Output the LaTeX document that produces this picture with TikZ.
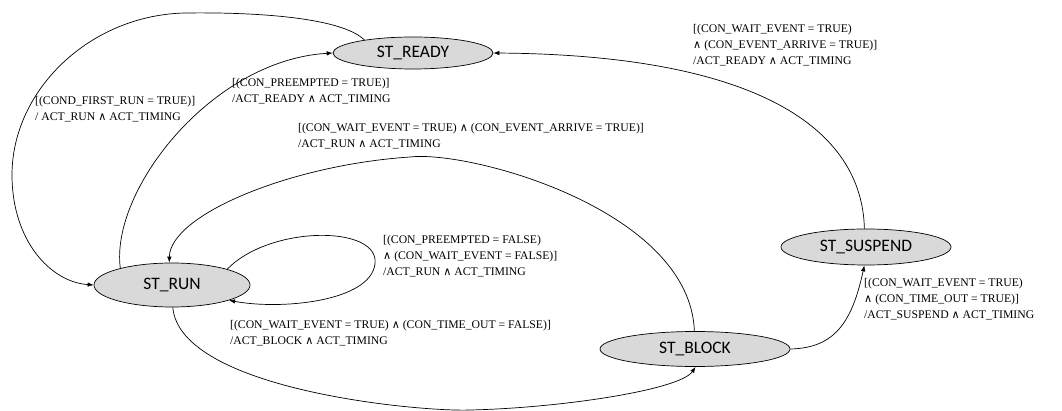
\documentclass[tikz,border=0pt]{standalone}
\usepackage{fontspec}
\setmainfont{Liberation Serif}
\newfontfamily\statefont{Carlito}
\newfontfamily\symfont{DejaVu Serif}[Scale=0.95]
\usetikzlibrary{shapes.geometric,arrows.meta}
\newcommand{\wedgesym}{{\symfont ∧}}
\begin{document}
\begin{tikzpicture}[x=1pt,y=-1pt,
  state/.style={ellipse,draw=black,line width=0.7pt,fill=black!15,inner sep=0pt,
    font=\statefont\fontsize{17.5}{20}\selectfont},
  trans/.style={draw=black,line width=0.7pt,-{Latex[length=6pt,width=4.5pt]}},
  guard/.style={align=left,anchor=north west,inner sep=0pt,
    font=\fontsize{11.7}{16}\selectfont}]
\useasboundingbox (0,0) rectangle (1062,411);

% states
\node[state,minimum width=160pt,minimum height=32pt] (ready)   at (413,53)  {ST\_READY};
\node[state,minimum width=156pt,minimum height=44pt] (run)     at (172,285) {ST\_RUN};
\node[state,minimum width=170pt,minimum height=36pt] (suspend) at (866,247) {ST\_SUSPEND};
\node[state,minimum width=190pt,minimum height=35pt] (block)   at (695,349) {ST\_BLOCK};

% transitions
\draw[trans] (ready.165) .. controls (342,18) and (260,12) .. (185,13)
  .. controls (90,15) and (12,90) .. (12,175)
  .. controls (12,240) and (50,282) .. (run.west);
\draw[trans] (run.162) .. controls (110,190) and (212,60) .. (ready.west);
\draw[trans] (suspend.95) .. controls (862,130) and (760,55) .. (ready.east);
\draw[trans] (block.92) .. controls (690,210) and (470,150) .. (410,157)
  .. controls (290,165) and (170,215) .. (run.97);
\draw[trans] (run.16) .. controls (270,225) and (380,225) .. (375,264)
  .. controls (370,302) and (280,310) .. (run.345);
\draw[trans] (run.272) .. controls (180,390) and (420,412) .. (470,410)
  .. controls (560,408) and (680,390) .. (block.272);
\draw[trans] (block.east) .. controls (835,348) and (852,322) .. (suspend.265);

% guards and actions
\node[guard] (g1) at (35,96)  {[(COND\_FIRST\_RUN = TRUE)]\\/ ACT\_RUN \wedgesym{} ACT\_TIMING};
\node[guard] (g2) at (232,78) {[(CON\_PREEMPTED = TRUE)]\\/ACT\_READY \wedgesym{} ACT\_TIMING};
\node[guard] (g3) at (693,24) {[(CON\_WAIT\_EVENT = TRUE)\\\wedgesym{} (CON\_EVENT\_ARRIVE = TRUE)]\\/ACT\_READY \wedgesym{} ACT\_TIMING};
\node[guard] (g4) at (298,123) {[(CON\_WAIT\_EVENT = TRUE) \wedgesym{} (CON\_EVENT\_ARRIVE = TRUE)]\\/ACT\_RUN \wedgesym{} ACT\_TIMING};
\node[guard] (g5) at (383,235) {[(CON\_PREEMPTED = FALSE)\\\wedgesym{} (CON\_WAIT\_EVENT = FALSE)]\\/ACT\_RUN \wedgesym{} ACT\_TIMING};
\node[guard] (g6) at (230,320) {[(CON\_WAIT\_EVENT = TRUE) \wedgesym{} (CON\_TIME\_OUT = FALSE)]\\/ACT\_BLOCK \wedgesym{} ACT\_TIMING};
\node[guard] (g7) at (864,278) {[(CON\_WAIT\_EVENT = TRUE)\\\wedgesym{} (CON\_TIME\_OUT = TRUE)]\\/ACT\_SUSPEND \wedgesym{} ACT\_TIMING};
\end{tikzpicture}
\end{document}
